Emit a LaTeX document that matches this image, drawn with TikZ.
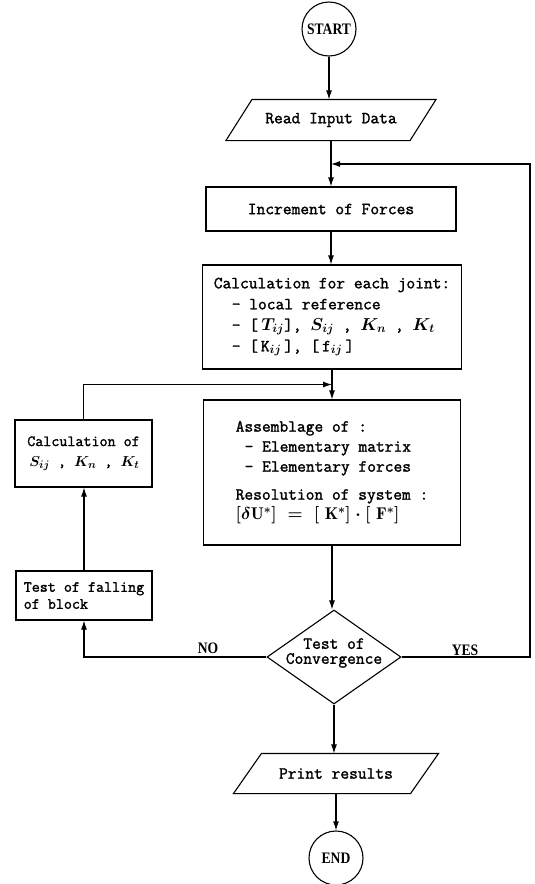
\documentclass[tikz,border=0pt]{standalone}
\usepackage{fontspec}
\newfontfamily\lblfont{Liberation Serif}[FakeStretch=0.85]
\newfontfamily\boxfont{Latin Modern Mono}[FakeBold=1.6]
\usetikzlibrary{arrows.meta,shapes.geometric,calc}
\begin{document}
\begin{tikzpicture}[x=1pt,y=-1pt,line width=1.1pt,
  mono/.style={font=\boxfont\fontsize{17}{#1}\selectfont\boldmath},
  mono/.default=20,
  smallmono/.style={font=\boxfont\fontsize{15.6}{#1}\selectfont\boldmath},
  box/.style={draw,rectangle,inner sep=0pt,align=left,mono},
  io/.style={rectangle,inner sep=0pt,align=center,mono},
  term/.style={draw,circle,inner sep=0pt,minimum size=54pt,font=\lblfont\fontsize{16}{18}\selectfont\bfseries},
  lbl/.style={inner sep=0pt,font=\lblfont\fontsize{16}{18}\selectfont\bfseries},
  arr/.style={-{Latex[length=9pt,width=6pt]}}]
\useasboundingbox (0,0) rectangle (535,884);

% main column
\node[term] (start) at (329,29) {START};
\node[io,minimum width=183pt,minimum height=40pt] (read) at (331,120) {Read Input Data};
\draw ([xshift=-13pt]read.south west) -- ([xshift=-13pt]read.south east)
   -- ([xshift=13pt]read.north east) -- ([xshift=13pt]read.north west) -- cycle;
\node[box,align=center,minimum width=250pt,minimum height=44pt] (inc) at (331,209) {Increment of Forces};
\node[box,mono=21,minimum width=259pt,minimum height=104pt] (calc) at (332,317)
  {Calculation for each joint:\\
   \hspace*{18pt}- local reference\\
   \hspace*{18pt}- [$\,T_{ij}$], $S_{ij}$ , $K_n$ , $K_t$\\
   \hspace*{18pt}- [\,K$_{ij}$\,], [\,f$_{ij}$\,]};
\node[box,mono=20,minimum width=257pt,minimum height=145pt] (assem) at (332,472.5)
  {Assemblage of :\\
   \hspace*{9pt}- Elementary matrix\\
   \hspace*{9pt}- Elementary forces\\[8pt]
   Resolution of system :\\
   $[\delta\mathrm{U}^{*}]\;=\;[\;\mathrm{K}^{*}]\cdot[\;\mathrm{F}^{*}]$};
\node[diamond,draw,minimum width=134pt,minimum height=94pt,inner sep=0pt] (dia) at (334,657) {};
\node[mono=15,align=center,inner sep=0pt] (dtext) at (334,653) {Test of\\Convergence};
\node[io,minimum width=176pt,minimum height=39pt] (print) at (336,773.5) {Print results};
\draw ([xshift=-14pt]print.south west) -- ([xshift=-14pt]print.south east)
   -- ([xshift=14pt]print.north east) -- ([xshift=14pt]print.north west) -- cycle;
\node[term] (end) at (336,858) {END};

% left column
\node[box,smallmono=20,minimum width=137pt,minimum height=67pt] (calcof) at (83.5,453.5)
  {Calculation of\\ \hspace*{2pt}$S_{ij}$ , $K_n$ , $K_t$};
\node[box,smallmono=17,minimum width=136pt,minimum height=49pt] (test) at (84,595.5)
  {Test of falling\\of block};

% labels
\node[lbl] (no) at (208,648) {NO};
\node[lbl] (yes) at (465,650) {YES};

% connectors
\coordinate (rc) at (530,164);
\draw[arr] (start.south) -- (start.south |- read.north);
\draw[arr] (read.south) -- (read.south |- inc.north);
\draw[arr] (dia.east) -| (rc) -- (rc -| read.south);
\draw[arr] (inc.south) -- (inc.south |- calc.north);
\draw[arr] (calc.south) -- (calc.south |- assem.north);
\draw[arr] (calcof.north) |- ($(calc.south)!.5!(assem.north)$);
\draw[arr] (assem.south) -- (assem.south |- dia.north);
\draw[arr] (dia.south) -- (dia.south |- print.north);
\draw[arr] (print.south) -- (print.south |- end.north);
\draw[arr] (dia.west) -| (test.south);
\draw[arr] (test.north) -- (test.north |- calcof.south);
\end{tikzpicture}
\end{document}
